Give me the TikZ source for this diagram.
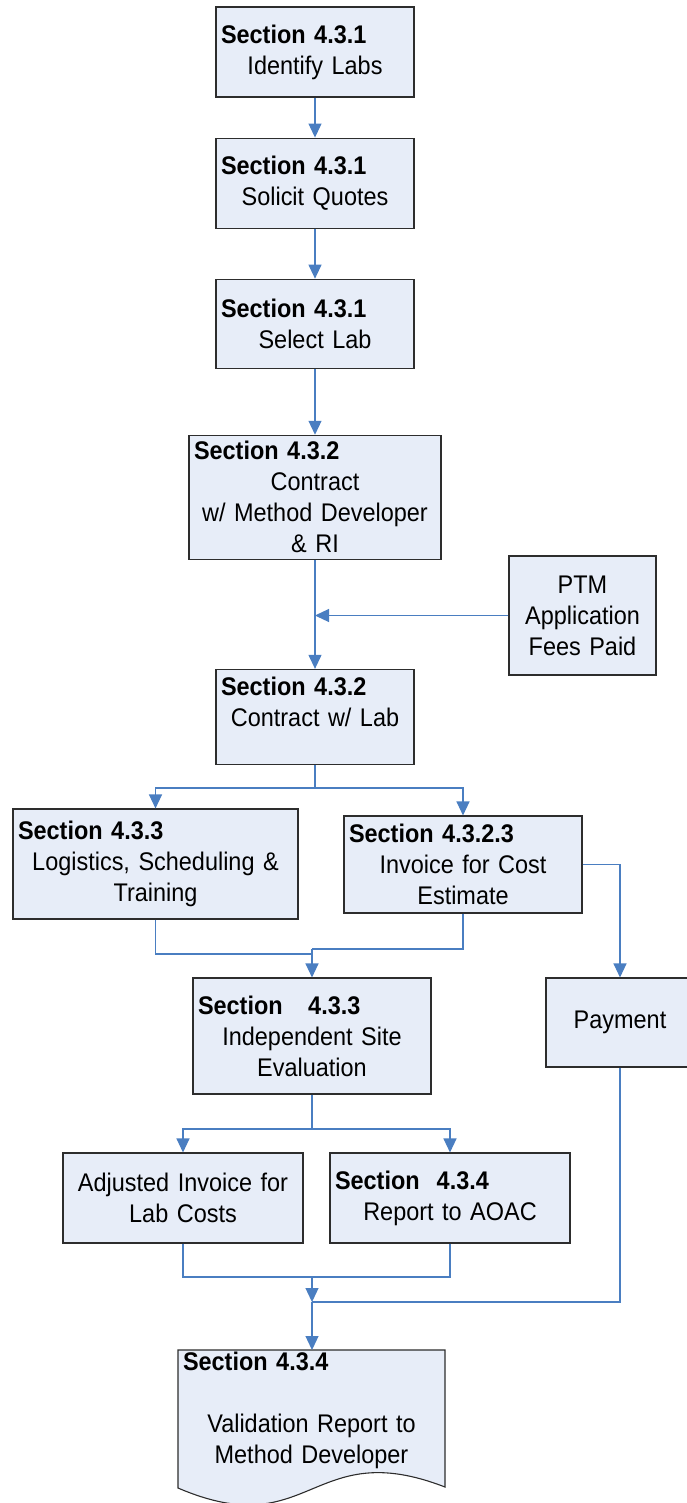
\documentclass[tikz,border=0pt]{standalone}
\usepackage{fontspec}
\setmainfont[FakeStretch=0.92]{Liberation Sans}
\usepackage{tikz}
\usetikzlibrary{arrows.meta}
\usetikzlibrary{positioning}
\definecolor{boxfill}{RGB}{231,237,248}
\definecolor{boxline}{RGB}{45,45,45}
\definecolor{linkblue}{RGB}{74,126,193}
\newcommand{\secline}[1]{\makebox[\linewidth][l]{\bfseries #1}}

\begin{document}
\begin{tikzpicture}[x=1pt,y=-1pt,>={Triangle[length=14pt,width=13pt]},
  main node/.style={draw=boxline,fill=boxfill,line width=1.1pt,inner xsep=5pt,inner ysep=0pt,
    align=center,text width=#1,font=\fontsize{25.5}{31}\selectfont},
  link/.style={draw=linkblue,line width=1.2pt}]

  \useasboundingbox (0,0) rectangle (687,1503);

  % main chain
  \node[main node=188pt,minimum height=90pt] (identify) at (315,52) {\secline{Section 4.3.1}\\Identify Labs};
  \node[main node=188pt,minimum height=90pt] (quotes) [below=40pt of identify] {\secline{Section 4.3.1}\\Solicit Quotes};
  \node[main node=188pt,minimum height=89pt] (select) [below=50pt of quotes] {\secline{Section 4.3.1}\\Select Lab};
  \node[main node=242pt,minimum height=124pt] (contract) [below=66pt of select] {\secline{Section 4.3.2}\\Contract\\w/ Method Developer\\\& RI};
  \node[main node=188pt,minimum height=95pt] (contractlab) [below=109pt of contract] {\secline{Section 4.3.2}\\Contract w/ Lab\\\mbox{}};
  \node[main node=137pt,minimum height=119pt] (ptm) at (582.5,615.5) {PTM\\Application\\Fees Paid};

  % branches
  \node[main node=275pt,minimum height=110pt] (logistics) at (155.5,864) {\secline{Section 4.3.3}\\Logistics, Scheduling \&\\Training};
  \node[main node=228pt,minimum height=97pt] (invoice) at (463,864.5) {\secline{Section 4.3.2.3}\\Invoice for Cost\\Estimate};
  \node[main node=138pt,minimum height=89pt] (payment) at (620,1022.5) {Payment};
  \node[main node=228pt,minimum height=116pt] (evaluation) at (312,1036) {\secline{Section\ \ \ 4.3.3}\\Independent Site\\Evaluation};
  \node[main node=230pt,minimum height=90pt] (adjinvoice) at (183,1198) {Adjusted Invoice for\\Lab Costs};
  \node[main node=230pt,minimum height=90pt] (report) at (450,1198) {\secline{Section\ \ 4.3.4}\\Report to AOAC};

  % document shape
  \draw[draw=boxline,fill=boxfill,line width=1.1pt] (178,1350) -- (445,1350) -- (445,1487)
    .. controls (311,1435) and (311,1545) .. (178,1488) -- cycle;
  \node[text width=257pt,inner xsep=5pt,inner ysep=2pt,anchor=north,align=center,
    font=\fontsize{25.5}{31}\selectfont] (doc) at (311.5,1350)
    {\secline{Section 4.3.4}\\[31pt]Validation Report to\\Method Developer};

  \coordinate (split1) at (315,788);
  \coordinate (join1) at (312,949);
  \coordinate (join1b) at (312,954);
  \coordinate (split2) at (312,1129);
  \coordinate (join2) at (312,1277);
  \coordinate (join3) at (312,1302);

  \draw[link,->] (identify) -- (quotes);
  \draw[link,->] (quotes) -- (select);
  \draw[link,->] (select) -- (contract);
  \draw[link,->] (contract) -- (contractlab);
  \draw[link,->] (ptm.west) -- (ptm.west -| contract.south);
  \draw[link] (contractlab) -- (split1);
  \draw[link,->] (split1) -| (logistics.north);
  \draw[link,->] (split1) -| (invoice.north);
  \draw[link,->] (invoice.east) -| (payment.north);
  \draw[link] (logistics.south) |- (join1b);
  \draw[link] (invoice.south) |- (join1);
  \draw[link,->] (join1) -- (evaluation.north);
  \draw[link] (evaluation.south) -- (split2);
  \draw[link,->] (split2) -| (adjinvoice.north);
  \draw[link,->] (split2) -| (report.north);
  \draw[link] (adjinvoice.south) |- (join2);
  \draw[link] (report.south) |- (join2);
  \draw[link] (payment.south) |- (join3);
  \draw[link,->] (join2) -- (join3);
  \draw[link,->] (join3) -- (join3 |- doc.north);
\end{tikzpicture}
\end{document}
